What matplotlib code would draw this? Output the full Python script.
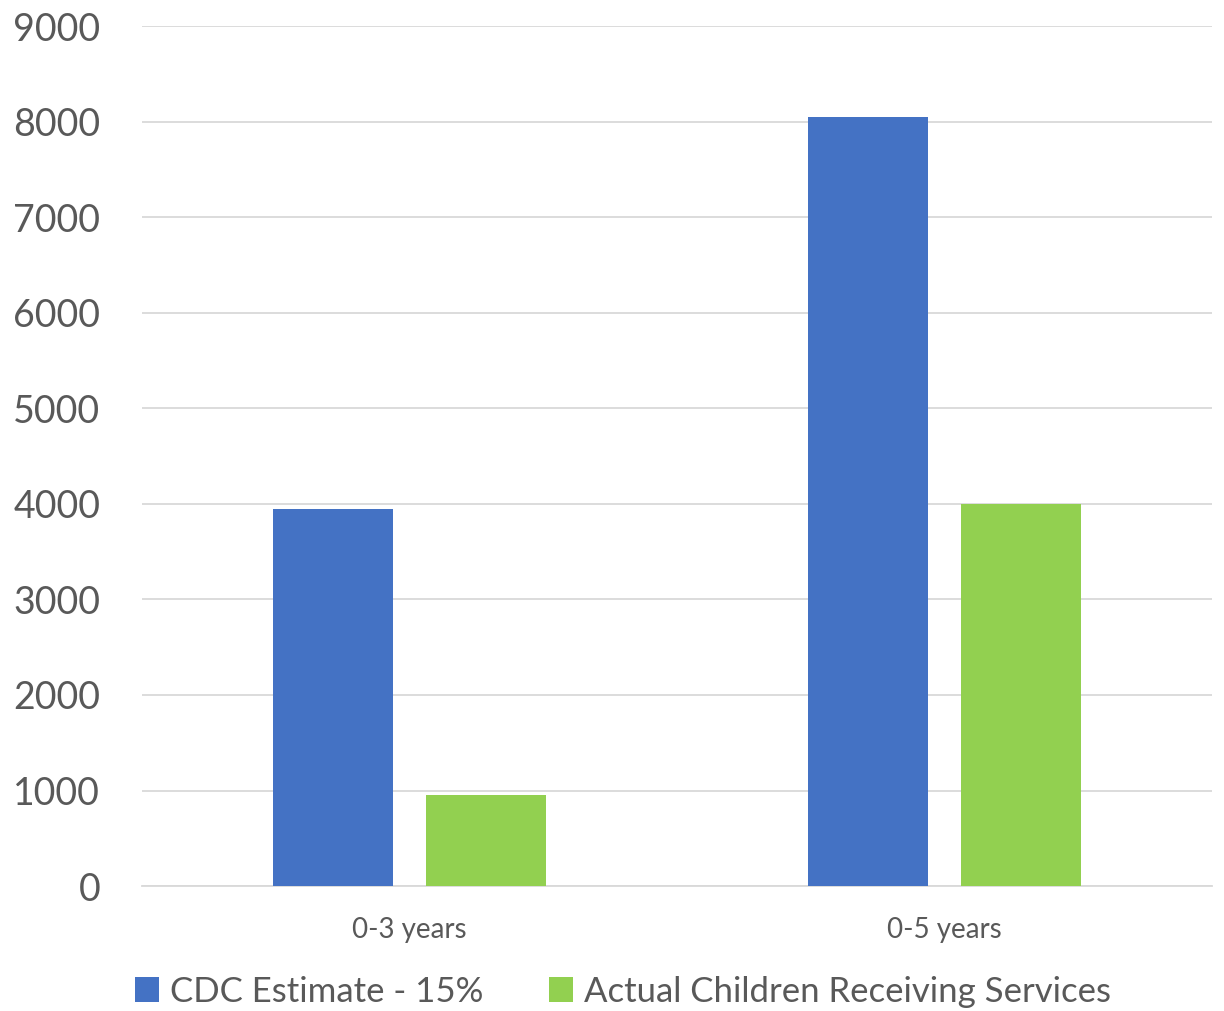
import matplotlib.pyplot as plt
import numpy as np

plt.rcParams['font.family'] = ['Lato', 'DejaVu Sans']

categories = ["0-3 years", "0-5 years"]
cdc_estimate = [3945, 8050]
actual_served = [950, 4000]
series_names = ["CDC Estimate - 15%", "Actual Children Receiving Services"]

blue = "#4472C4"
green = "#92D050"
txt = "#595959"

fig = plt.figure(figsize=(12.24, 10.11), dpi=100)
ax = fig.add_axes([0.116, 0.1236, 0.874, 0.8504])

x = np.arange(len(categories))
w = 0.224
ax.bar(x - 0.143, cdc_estimate, w, color=blue, label=series_names[0], zorder=3)
ax.bar(x + 0.143, actual_served, w, color=green, label=series_names[1], zorder=3)

ax.set_xlim(-0.5, 1.5)
ax.set_ylim(0, 9000)
ax.set_yticks(range(0, 9001, 1000))
ax.set_xticks(x)
ax.set_xticklabels(categories)
ax.grid(axis='y', color='#D9D9D9', linewidth=1.3, zorder=0)
for s in ['top', 'right', 'left']:
    ax.spines[s].set_visible(False)
ax.spines['bottom'].set_color('#D9D9D9')
ax.spines['bottom'].set_linewidth(1.3)
ax.tick_params(axis='y', length=0, labelsize=27, labelcolor=txt, pad=30)
ax.tick_params(axis='x', length=0, labelsize=20, labelcolor=txt, pad=22)

fig.legend(loc='center', bbox_to_anchor=(0.509, 0.019), ncol=2, frameon=False,
           fontsize=25, labelcolor=txt, handlelength=0.7, handleheight=0.7,
           handletextpad=0.3, columnspacing=1.9, borderaxespad=0)

fig.savefig("out.png", dpi=100)
